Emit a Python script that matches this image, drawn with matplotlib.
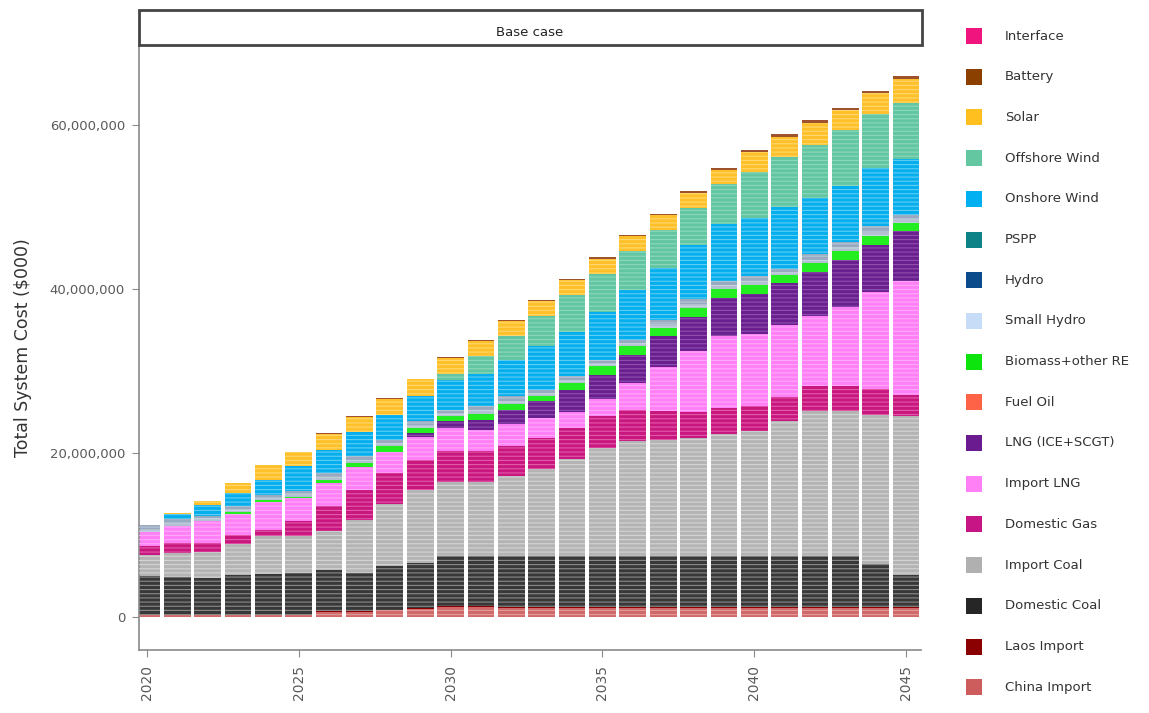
import matplotlib
matplotlib.use("Agg")
import matplotlib.pyplot as plt
from matplotlib.patches import Rectangle
from matplotlib.ticker import FuncFormatter, FixedLocator
import numpy as np

plt.rcParams["font.family"] = ["DejaVu Sans"]
plt.rcParams["hatch.linewidth"] = 0.8

years = list(range(2020, 2046))

# Annual cost by technology, million $000 (stack order, bottom to top)
china_import = [0.25, 0.25, 0.25, 0.25, 0.25, 0.25, 0.67, 0.67, 0.87, 1.08, 1.27, 1.27, 1.20,
                1.20, 1.20, 1.20, 1.20, 1.20, 1.20, 1.20, 1.20, 1.20, 1.20, 1.20, 1.20, 1.20]
laos_import = [0, 0, 0, 0, 0, 0, 0.10, 0.10, 0.10, 0.10, 0.10, 0.10, 0.10,
               0.10, 0.10, 0.10, 0.10, 0.10, 0.10, 0.10, 0.10, 0.10, 0.10, 0.10, 0.10, 0.10]
domestic_coal = [4.74, 4.70, 4.58, 4.86, 5.10, 5.19, 4.98, 4.67, 5.27, 5.47, 6.13, 6.13, 6.20,
                 6.20, 6.20, 6.20, 6.20, 6.20, 6.20, 6.20, 6.20, 6.20, 6.20, 6.20, 5.21, 3.89]
import_coal = [2.59, 2.92, 3.11, 3.89, 4.54, 4.45, 4.75, 6.48, 7.63, 8.84, 8.96, 8.96, 9.69,
               10.60, 11.81, 13.14, 13.96, 14.15, 14.35, 14.80, 15.23, 16.45, 17.63, 17.63, 18.19, 19.29]
domestic_gas = [1.09, 1.22, 1.15, 1.10, 0.81, 1.83, 3.04, 3.65, 3.73, 3.73, 3.77, 3.77, 3.65,
                3.76, 3.77, 3.85, 3.76, 3.45, 3.16, 3.15, 2.98, 2.95, 3.08, 3.08, 3.07, 2.64]
import_lng = [1.79, 2.10, 2.71, 2.55, 3.40, 2.78, 2.88, 2.73, 2.50, 2.76, 2.85, 2.64, 2.76,
              2.44, 1.90, 2.11, 3.33, 5.40, 7.45, 8.76, 8.85, 8.76, 8.54, 9.65, 11.84, 13.80]
lng_ice_scgt = [0, 0, 0, 0, 0, 0, 0, 0, 0, 0.49, 0.81, 1.22, 1.62,
                2.01, 2.76, 2.96, 3.45, 3.73, 4.07, 4.74, 4.84, 5.04, 5.27, 5.69, 5.69, 6.14]
fuel_oil = [0] * 26
biomass = [0, 0, 0, 0.15, 0.20, 0.20, 0.37, 0.52, 0.75, 0.61, 0.61, 0.73, 0.81,
           0.61, 0.81, 1.01, 1.00, 1.01, 1.11, 1.10, 1.09, 1.02, 1.09, 1.10, 1.10, 1.01]
small_hydro = [0.35, 0.35, 0.30, 0.35, 0.30, 0.30, 0.35, 0.35, 0.35, 0.35, 0.35, 0.38, 0.38,
               0.36, 0.35, 0.36, 0.36, 0.43, 0.47, 0.37, 0.47, 0.32, 0.47, 0.47, 0.56, 0.41]
hydro = [0.42, 0.46, 0.30, 0.45, 0.36, 0.40, 0.46, 0.45, 0.45, 0.46, 0.45, 0.50, 0.51,
         0.47, 0.46, 0.46, 0.46, 0.58, 0.62, 0.50, 0.62, 0.42, 0.63, 0.62, 0.75, 0.55]
pspp = [0] * 26
onshore_wind = [0, 0.65, 1.35, 1.57, 1.83, 3.00, 2.84, 2.92, 3.05, 3.03, 3.65, 3.98, 4.47,
                5.34, 5.35, 5.75, 6.08, 6.29, 6.57, 7.01, 7.01, 7.46, 6.92, 6.80, 7.02, 6.80]
offshore_wind = [0, 0, 0, 0, 0, 0, 0, 0, 0, 0, 0.73, 2.19, 2.91,
                 3.65, 4.58, 4.71, 4.66, 4.66, 4.61, 4.83, 5.61, 6.13, 6.45, 6.79, 6.58, 6.80]
solar = [0, 0.10, 0.48, 1.22, 1.74, 1.76, 1.93, 1.85, 1.93, 2.06, 1.93, 1.78, 1.75,
         1.75, 1.75, 1.83, 1.83, 1.75, 1.76, 1.67, 2.42, 2.46, 2.64, 2.46, 2.55, 2.98]
battery = [0, 0, 0, 0, 0, 0, 0.10, 0.10, 0.10, 0.10, 0.10, 0.10, 0.20,
           0.20, 0.20, 0.20, 0.20, 0.20, 0.30, 0.30, 0.30, 0.30, 0.30, 0.30, 0.30, 0.30]
interface = [0] * 26

# name, values, legend colour, bar colour, stripe colour
series = [
    ("China Import", china_import, "#cd5c5c", "#d06a6a", "#e39a9a"),
    ("Laos Import", laos_import, "#8b0000", "#8b0000", None),
    ("Domestic Coal", domestic_coal, "#262626", "#383838", "#8a8a8a"),
    ("Import Coal", import_coal, "#b0b0b0", "#b4b4b4", "#d4d4d4"),
    ("Domestic Gas", domestic_gas, "#c71585", "#c8177f", "#e25aa8"),
    ("Import LNG", import_lng, "#ff80f4", "#ff80f6", "#ffaafa"),
    ("LNG (ICE+SCGT)", lng_ice_scgt, "#6a1b8f", "#6a1f8e", "#8f50ae"),
    ("Fuel Oil", fuel_oil, "#ff6347", "#ff6347", None),
    ("Biomass+other RE", biomass, "#0de30d", "#22ee22", None),
    ("Small Hydro", small_hydro, "#c6dcf7", "#b2c0d2", "#c8d4e2"),
    ("Hydro", hydro, "#0b4a8b", "#98aac0", "#b8c6d6"),
    ("PSPP", pspp, "#0d8387", "#0d8387", None),
    ("Onshore Wind", onshore_wind, "#00b0f0", "#05aeec", "#62ccf3"),
    ("Offshore Wind", offshore_wind, "#63c7a2", "#62c6a2", "#8ed8bc"),
    ("Solar", solar, "#ffbf1f", "#ffc02a", "#ffd870"),
    ("Battery", battery, "#8b4000", "#a0522d", None),
    ("Interface", interface, "#f0147f", "#f0147f", None),
]

W, H, DPI = 1149, 713, 100
fig = plt.figure(figsize=(W / DPI, H / DPI), dpi=DPI)


def fx(px):
    return px / W


def fy(py):
    return 1 - py / H


ax = fig.add_axes([fx(139), fy(649.5), fx(921) - fx(139), fy(45) - fy(649.5)])

x = np.array(years, dtype=float)
bottom = np.zeros(len(years))
for name, vals, leg_c, bar_c, stripe_c in series:
    v = np.array(vals, dtype=float) * 1e6
    ax.bar(x, v, bottom=bottom, width=0.88, color=bar_c, linewidth=0, zorder=2)
    if stripe_c is not None:
        ax.bar(x, v, bottom=bottom, width=0.88, fill=False, hatch="----",
               edgecolor=stripe_c, linewidth=0, zorder=3)
    bottom += v

ax.set_xlim(2019.74, 2045.49)
ax.set_ylim(-3.9e6, 69.7e6)

for s in ("top", "right"):
    ax.spines[s].set_visible(False)
for s in ("left", "bottom"):
    ax.spines[s].set_color("#8a8a8a")
    ax.spines[s].set_linewidth(1.2)

ax.yaxis.set_major_locator(FixedLocator([0, 20e6, 40e6, 60e6]))
ax.yaxis.set_major_formatter(FuncFormatter(lambda v, p: f"{int(round(v)):,}"))
ax.xaxis.set_major_locator(FixedLocator([2020, 2025, 2030, 2035, 2040, 2045]))
ax.xaxis.set_major_formatter(FuncFormatter(lambda v, p: f"{int(v)}"))
ax.tick_params(axis="y", length=5, color="#8a8a8a", labelsize=9.5, labelcolor="#5a5a5a", pad=5)
ax.tick_params(axis="x", length=5, color="#8a8a8a", labelsize=10, labelcolor="#5a5a5a",
               pad=6, labelrotation=90)
ax.set_ylabel("Total System Cost ($000)", fontsize=12.5, color="#333333", labelpad=13)

# facet strip
fig.add_artist(Rectangle((fx(138.5), fy(44.5)), fx(921.5) - fx(138.5), fy(10.5) - fy(44.5),
                         transform=fig.transFigure, facecolor="white", edgecolor="#444444",
                         linewidth=2.0))
fig.text(fx(530), fy(33), "Base case", ha="center", va="center", fontsize=9.5, color="#222222")

# legend, top to bottom
for i, (name, vals, leg_c, bar_c, stripe_c) in enumerate(reversed(series)):
    yc = 36 + i * 40.7
    fig.add_artist(Rectangle((fx(966), fy(yc + 8)), fx(16), fy(0) - fy(16),
                             transform=fig.transFigure, facecolor=leg_c, edgecolor="none"))
    fig.text(fx(1005), fy(yc), name, ha="left", va="center", fontsize=9.5, color="#333333")

fig.savefig("out.png", dpi=DPI)
